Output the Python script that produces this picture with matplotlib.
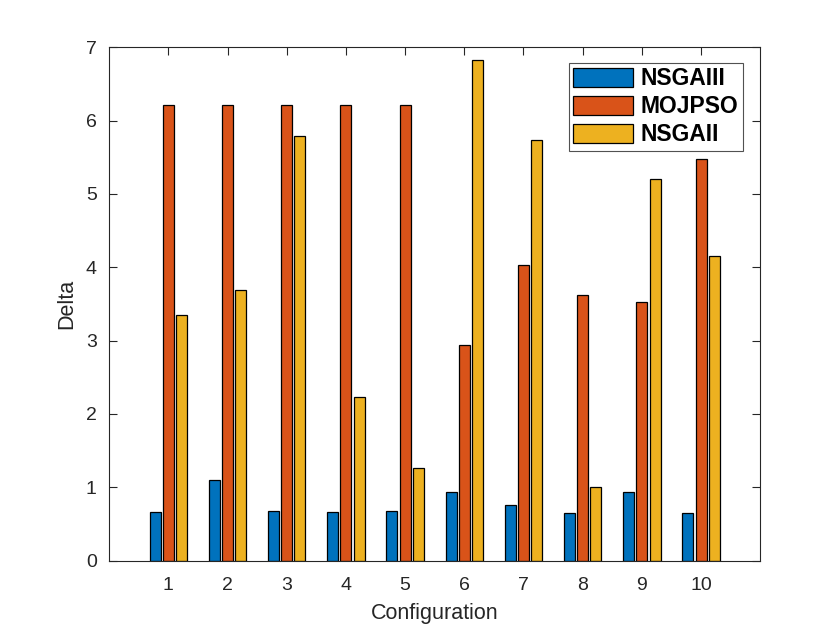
import numpy as np
import matplotlib
matplotlib.use("Agg")
import matplotlib.pyplot as plt

plt.rcParams['font.family'] = ['Liberation Sans', 'DejaVu Sans']

configs = np.arange(1, 11)
nsgaiii = [0.67, 1.10, 0.68, 0.67, 0.68, 0.94, 0.76, 0.65, 0.94, 0.65]
mojpso  = [6.21, 6.21, 6.21, 6.21, 6.21, 2.94, 4.03, 3.62, 3.53, 5.47]
nsgaii  = [3.35, 3.69, 5.79, 2.23, 1.27, 6.82, 5.74, 1.01, 5.21, 4.15]
series_names = ["NSGAIII", "MOJPSO", "NSGAII"]
colors = ["#0072BD", "#D95319", "#EDB120"]

fig = plt.figure(figsize=(8.4, 6.3), dpi=100)
ax = fig.add_axes([0.13, 0.11, 0.775, 0.815])

axcol = "#262626"
offset = 0.223
width = 0.186
for i, (vals, name) in enumerate(zip([nsgaiii, mojpso, nsgaii], series_names)):
    ax.bar(configs + (i - 1) * offset, vals, width=width, color=colors[i],
           edgecolor="black", linewidth=0.9, label=name, zorder=2)

ax.set_xlim(0, 11)
ax.set_ylim(0, 7)
ax.set_xticks(configs)
ax.set_yticks(range(0, 8))
ax.tick_params(direction="in", top=True, right=True, length=6, width=0.8,
               colors=axcol, labelsize=14)
ax.tick_params(axis="x", pad=12)
ax.tick_params(axis="y", pad=9)
for s in ax.spines.values():
    s.set_color(axcol)
    s.set_linewidth(0.8)

ax.set_xlabel("Configuration", fontsize=15.5, color=axcol, labelpad=6)
ax.set_ylabel("Delta", fontsize=15.5, color=axcol, labelpad=6)

leg = ax.legend(loc="upper right", bbox_to_anchor=(0.974, 0.97),
                prop={'weight': 'bold', 'size': 16.5}, frameon=True, fancybox=False,
                edgecolor=axcol, handlelength=2.6, handleheight=0.9,
                labelspacing=0.22, handletextpad=0.35, borderpad=0.2,
                borderaxespad=0)
leg.get_frame().set_linewidth(0.8)

fig.savefig("out.png", dpi=100)
